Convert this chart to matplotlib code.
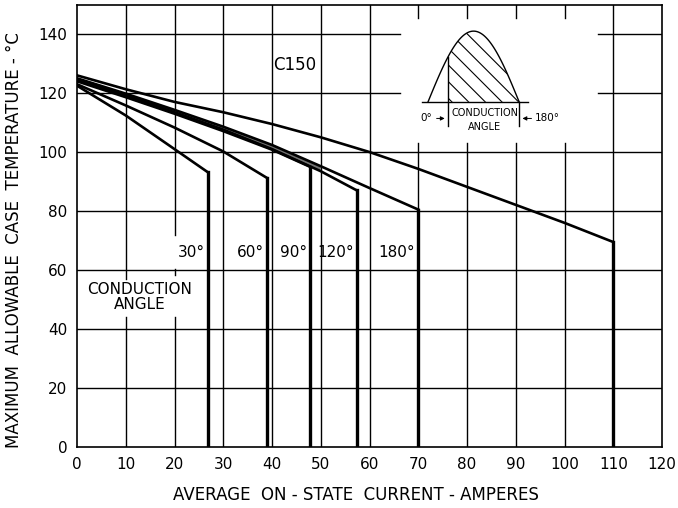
import numpy as np
import matplotlib
matplotlib.use("Agg")
import matplotlib.pyplot as plt

plt.rcParams['font.family'] = ['DejaVu Sans']
plt.rcParams['hatch.linewidth'] = 0.8

# curves: current (A) vs max case temperature (C)
dc_x = [0, 10, 20, 30, 40, 50, 60, 70, 80, 90, 100, 110]
dc_y = [126, 121.3, 117, 113.5, 109.5, 105, 100, 94.3, 88.2, 82.1, 76, 69.5]
a180_x = [0, 10, 20, 30, 40, 50, 60, 70]
a180_y = [125, 119.8, 114.3, 108.6, 102.4, 95.2, 87.8, 80.5]
a120_x = [0, 10, 20, 30, 40, 50, 57.4]
a120_y = [124.5, 119.2, 113.5, 107.6, 101, 93.5, 87]
a90_x = [0, 10, 20, 30, 40, 47.8]
a90_y = [124, 118.6, 113, 107.1, 100.8, 95]
a60_x = [0, 10, 20, 30, 39]
a60_y = [123, 115.8, 108.3, 100.2, 91.2]
a30_x = [0, 10, 20, 26.8]
a30_y = [122.5, 112.4, 101, 93.2]

curves = [(dc_x, dc_y, None), (a180_x, a180_y, "180°"), (a120_x, a120_y, "120°"),
          (a90_x, a90_y, "90°"), (a60_x, a60_y, "60°"), (a30_x, a30_y, "30°")]

xticks = list(range(0, 130, 10))
yticks = list(range(0, 150, 20))

fig = plt.figure(figsize=(6.78, 5.08), dpi=100)
ax = fig.add_axes([0.1136, 0.120, 0.8628, 0.871])
ax.set_xlim(0, 120)
ax.set_ylim(0, 150)

# grid, with the gaps left around labels and the inset sketch
vgaps = {10: [(44, 57)], 20: [(44, 58.3), (60.5, 72)],
         70: [(103, 145.6)], 80: [(103, 145.6)], 90: [(103, 145.6)], 100: [(103, 145.6)]}
hgaps = {120: [(66.3, 106.9)], 140: [(66.3, 106.9)]}


def pieces(lo, hi, gaps):
    out, start = [], lo
    for a, b in gaps:
        out.append((start, a))
        start = b
    out.append((start, hi))
    return out


for gx in xticks[1:-1]:
    for a, b in pieces(0, 150, vgaps.get(gx, [])):
        ax.plot([gx, gx], [a, b], color="black", lw=1.0, zorder=1)
for gy in yticks[1:]:
    for a, b in pieces(0, 120, hgaps.get(gy, [])):
        ax.plot([a, b], [gy, gy], color="black", lw=1.0, zorder=1)

# grey band between closely spaced 90/120/180 curves
band_x = a180_x[:6] + a120_x[:6][::-1]
band_y = a180_y[:6] + a120_y[:6][::-1]
ax.fill(band_x, band_y, color="0.45", lw=0, zorder=2)

for cx, cy, lab in curves:
    ax.plot(cx, cy, color="black", lw=1.9, zorder=3, solid_joinstyle="miter")
    ax.plot([cx[-1], cx[-1]], [cy[-1], 0], color="black", lw=2.4, zorder=3)
    if lab:
        ax.text(cx[-1] - 0.6, 65.8, lab, ha="right", va="center", fontsize=11, zorder=4)

ax.text(44.7, 129.5, "C150", ha="center", va="center", fontsize=12)
ax.text(12.9, 50.9, "CONDUCTION\nANGLE", ha="center", va="center", fontsize=11,
        linespacing=1.0)

# inset: half sine wave with the conduction part hatched
wave_t = np.linspace(0, 1, 80)
wave_x = 72 + 18.7 * wave_t
wave_y = 117 + 24 * np.sin(np.pi * wave_t)
ax.plot([70.7, 92.5], [117, 117], color="black", lw=1.0)
ax.plot(wave_x, wave_y, color="black", lw=1.0)
on = wave_x >= 76.1
ax.fill_between(wave_x[on], 117, wave_y[on], facecolor="none", edgecolor="black",
                hatch="\\\\", lw=0)
ax.plot([76.1, 76.1], [109, np.interp(76.1, wave_x, wave_y)], color="black", lw=1.0)
ax.plot([90.7, 90.7], [109, 117], color="black", lw=1.0)
ax.text(83.6, 113.2, "CONDUCTION", ha="center", va="center", fontsize=7)
ax.text(83.6, 108.4, "ANGLE", ha="center", va="center", fontsize=7)
ax.text(72.9, 111.6, "0°", ha="right", va="center", fontsize=7.5)
ax.annotate("", xy=(76.0, 111.4), xytext=(73.2, 111.4),
            arrowprops=dict(arrowstyle="-|>", lw=0.7, color="black", mutation_scale=6))
ax.text(94.0, 111.6, "180°", ha="left", va="center", fontsize=7.5)
ax.annotate("", xy=(90.8, 111.4), xytext=(93.8, 111.4),
            arrowprops=dict(arrowstyle="-|>", lw=0.7, color="black", mutation_scale=6))

ax.set_xticks(xticks)
ax.set_yticks(yticks)
ax.tick_params(length=0, labelsize=11, pad=7)
for s in ax.spines.values():
    s.set_linewidth(1.2)

ax.set_xlabel("AVERAGE  ON - STATE  CURRENT - AMPERES", fontsize=12)
ax.xaxis.set_label_coords(0.477, -0.088)
ax.set_ylabel("MAXIMUM  ALLOWABLE  CASE  TEMPERATURE - °C", fontsize=12)
ax.yaxis.set_label_coords(-0.092, 0.468)

fig.savefig("out.png", dpi=100)
